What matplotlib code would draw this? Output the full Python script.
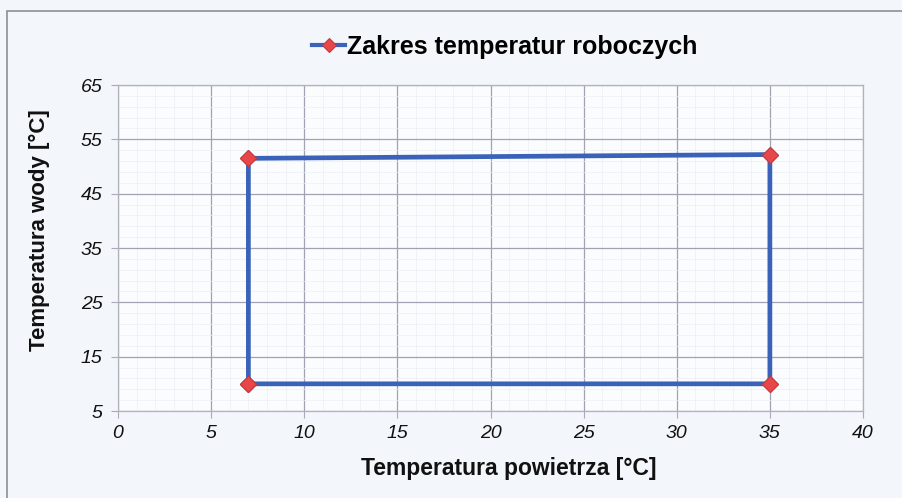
import matplotlib
matplotlib.use("Agg")
import matplotlib.pyplot as plt
from matplotlib.patches import Rectangle
import numpy as np

# Data
air_temp = [7, 7, 35, 35, 7]
water_temp = [10, 51.5, 52.2, 10, 10]
series_name = "Zakres temperatur roboczych"
x_ticks = [0, 5, 10, 15, 20, 25, 30, 35, 40]
y_ticks = [5, 15, 25, 35, 45, 55, 65]
x_label = "Temperatura powietrza [°C]"
y_label = "Temperatura wody [°C]"

plt.rcParams['font.family'] = ['Liberation Sans', 'DejaVu Sans']

fig = plt.figure(figsize=(9.03, 4.98), dpi=100)
fig.patch.set_facecolor('#f3f7fb')
# outer frame
fig.patches.append(Rectangle((7/903, -0.1), 1.2, 1 - 11/498 + 0.1, transform=fig.transFigure,
                             fill=False, edgecolor='#8a8f99', linewidth=1.2))

ax = fig.add_axes([118/903, 1 - 411/498, (863 - 118)/903, (411 - 85)/498])
ax.set_facecolor('#fbfcfe')

line, = ax.plot(air_temp, water_temp, color='#3a62b8', linewidth=3.4,
                marker='D', markersize=8.5, markerfacecolor='#e8474a',
                markeredgecolor='#c43a3e', markeredgewidth=0.8, label=series_name,
                solid_joinstyle='miter', zorder=3)
ax.plot(air_temp[:-1], water_temp[:-1], linestyle='none', marker='D', markersize=8.5,
        markerfacecolor='#e8474a', markeredgecolor='#c43a3e', markeredgewidth=0.8, zorder=4)

ax.set_xlim(0, 40)
ax.set_ylim(5, 65)
ax.set_xticks(x_ticks)
ax.set_yticks(y_ticks)
ax.set_xticks(np.arange(0, 40.1, 1), minor=True)
ax.set_yticks(np.arange(5, 65.1, 2), minor=True)
ax.grid(which='major', color='#9fa3b3', linewidth=0.9)
ax.grid(which='minor', color='#eceef4', linewidth=0.5)
ax.set_axisbelow(True)

for s in ax.spines.values():
    s.set_color('#b0b3bd')
    s.set_linewidth(0.9)

ax.tick_params(axis='both', which='major', length=5, color='#a9acb8', labelsize=14,
               direction='out')
ax.tick_params(axis='both', which='minor', length=0)
ax.tick_params(axis='y', pad=6)
ax.tick_params(axis='x', pad=5)
for lab in ax.get_xticklabels() + ax.get_yticklabels():
    lab.set_fontstyle('italic')
    lab.set_color('#111111')

ax.set_xlabel(x_label, fontsize=16.5, fontweight='bold', color='#111111', va='center')
ax.set_ylabel(y_label, fontsize=16, fontweight='bold', color='#111111', va='center')
ax.xaxis.set_label_coords((509 - 118) / 745, (411 - 468) / 326)
ax.yaxis.set_label_coords((39 - 118) / 745, (411 - 230) / 326)

leg = fig.legend(handles=[line], loc='center', bbox_to_anchor=(505/903, 1 - 47/498),
                 frameon=False, handlelength=1.3, handletextpad=0.1,
                 prop={'weight': 'bold', 'size': 18})
leg.legend_handles[0].set_markersize(7)
leg.legend_handles[0].set_linewidth(3)

fig.savefig('out.png', dpi=100, facecolor=fig.get_facecolor())
